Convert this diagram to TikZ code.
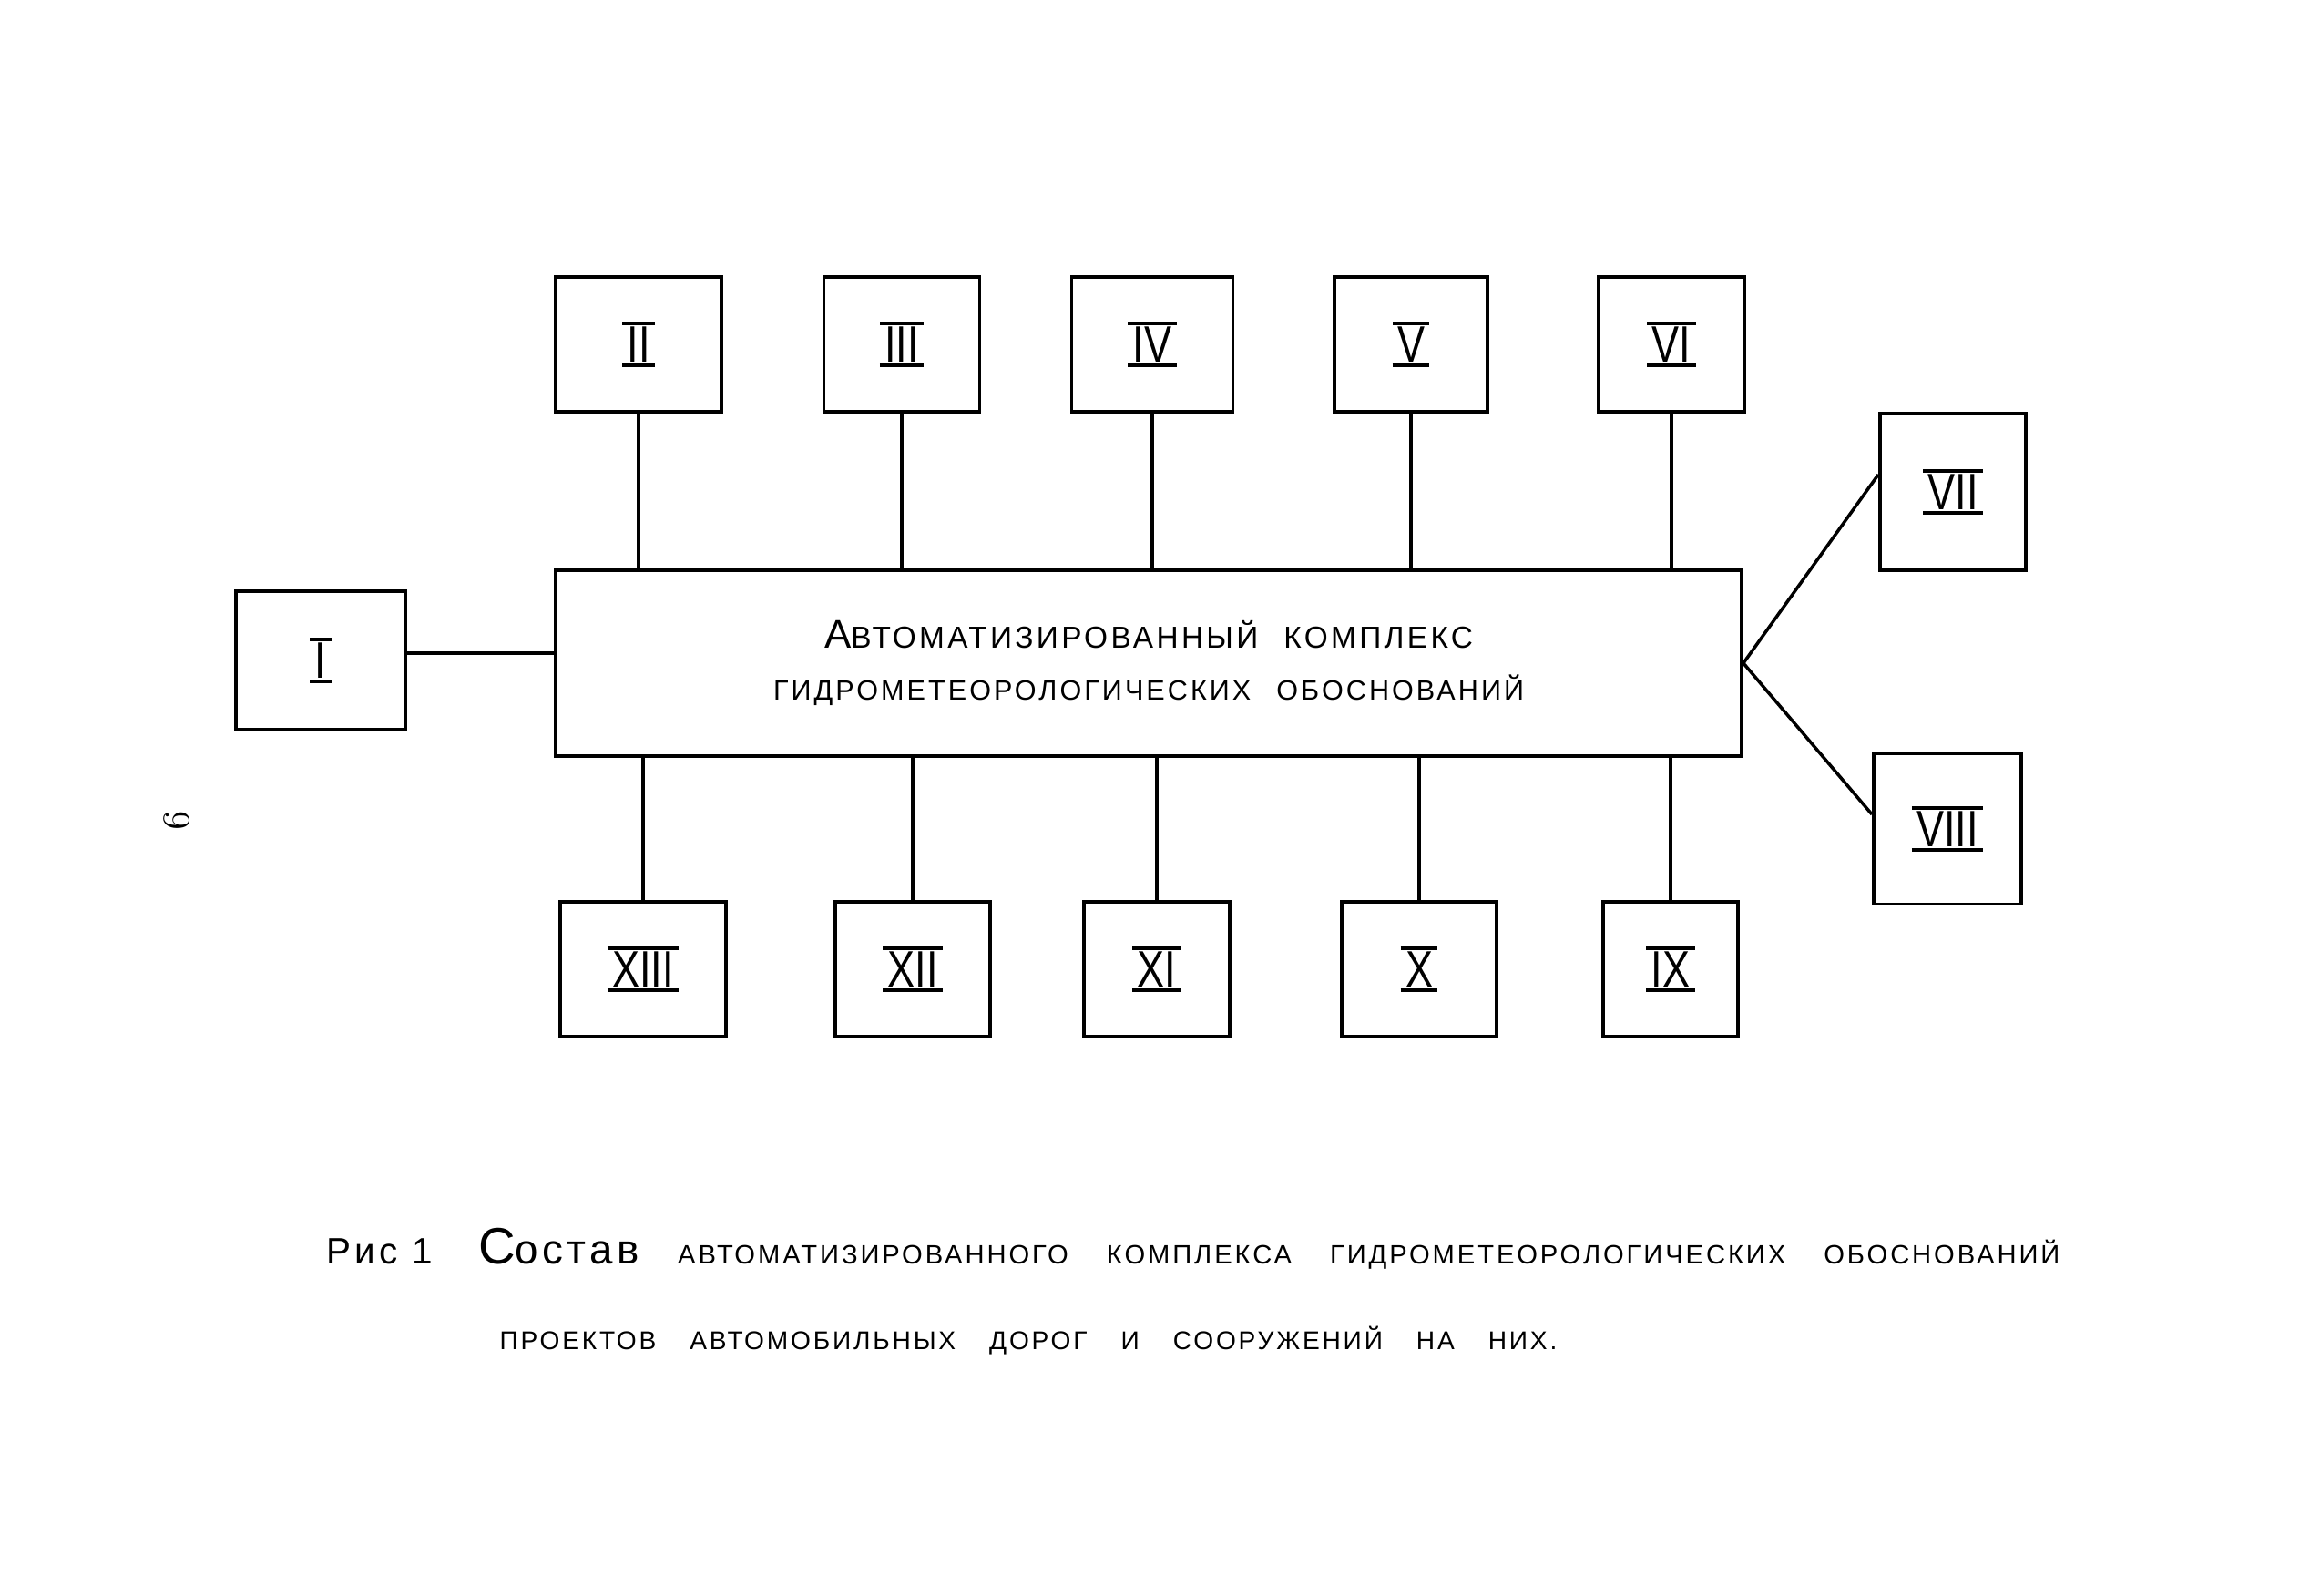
\documentclass[tikz,border=0pt]{standalone}
\usepackage{fontspec}
\usetikzlibrary{positioning}
\newfontfamily\letterfont[LetterSpace=10]{Liberation Sans}
\newfontfamily\romfont[FakeStretch=0.8]{Liberation Sans}
\newcommand{\rom}[1]{\vbox{\hrule height 1pt\kern0.6pt\hbox{\romfont\kern1.5pt#1\kern1.5pt}\kern0.6pt\hrule height 1pt}}
\newcommand{\wordgap}[1]{\spaceskip=#1\relax}

\begin{document}
\begin{tikzpicture}[
    box/.style={draw, line width=1.1pt, inner sep=0pt},
    link/.style={line width=1pt},
    num/.style={font=\fontsize{16}{16}\selectfont},
    capt/.style={font=\letterfont\fontsize{8.3}{10}\selectfont\wordgap{0.42cm}},
    every node/.style={font=\letterfont\fontsize{8.7}{10}\selectfont\wordgap{0.28cm}}]
  \useasboundingbox (0,0) rectangle (25.36,17.52);
  % Central block
  \node[box, minimum width=13.02cm, minimum height=2.04cm, align=center] (main) at (12.61,10.24)
    {{\fontsize{9.5}{10}\selectfont{\fontsize{12.5}{14}\selectfont А}ВТОМАТИЗИРОВАННЫЙ КОМПЛЕКС}\\[6pt]
     ГИДРОМЕТЕОРОЛОГИЧЕСКИХ ОБОСНОВАНИЙ};
  % Block I on the left
  \node[box, num, minimum width=1.86cm, minimum height=1.52cm] (bI) at (3.52,10.27) {\rom{I}};
  \draw[link] ([yshift=0.08cm]bI.east) -- ([yshift=0.08cm]main.west |- bI.east);
  % Upper row
  \foreach \n/\x/\w in {II/7.01/1.82, III/9.90/1.71, IV/12.65/1.77, V/15.49/1.68, VI/18.35/1.60}{
    \node[box, num, minimum width=\w cm, minimum height=1.48cm] (b\n) at (\x,13.74) {\rom{\n}};
    \draw[link] (b\n.south) -- (b\n.south |- main.north);
  }
  % Lower row
  \foreach \n/\x/\w in {XIII/7.06/1.82, XII/10.02/1.70, XI/12.70/1.60, X/15.58/1.70, IX/18.34/1.48}{
    \node[box, num, minimum width=\w cm, minimum height=1.48cm] (b\n) at (\x,6.88) {\rom{\n}};
    \draw[link] (b\n.north) -- (b\n.north |- main.south);
  }
  % Right pair
  \node[box, num, minimum width=1.60cm, minimum height=1.72cm] (bVII) at (21.44,12.12) {\rom{VII}};
  \node[box, num, minimum width=1.62cm, minimum height=1.65cm] (bVIII) at (21.38,8.42) {\rom{VIII}};
  \draw[link] (main.east) -- ([yshift=0.19cm]bVII.west);
  \draw[link] (main.east) -- ([yshift=0.16cm]bVIII.west);
  % Page number
  \node[font=\fontsize{12}{12}\selectfont, rotate=-90] (page) at (1.94,8.51) {9};
  % Caption
  \node[capt] (cap1) at (13.10,3.81)
    {{\letterfont\fontsize{11.5}{14}\selectfont Рис\hspace{0.16cm}1}\hspace{0.5cm}{\fontsize{16}{16}\selectfont С\fontsize{13}{14}\selectfont остав}
     АВТОМАТИЗИРОВАННОГО КОМПЛЕКСА ГИДРОМЕТЕОРОЛОГИЧЕСКИХ ОБОСНОВАНИЙ};
  \node[capt, font=\letterfont\fontsize{8}{10}\selectfont\wordgap{0.37cm}] (cap2) at (11.29,2.80)
    {ПРОЕКТОВ АВТОМОБИЛЬНЫХ ДОРОГ И СООРУЖЕНИЙ НА НИХ.};
\end{tikzpicture}
\end{document}
